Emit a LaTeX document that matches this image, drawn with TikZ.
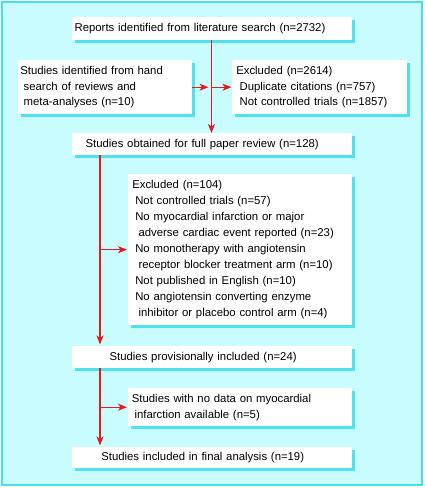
\documentclass[tikz,border=0pt]{standalone}
\usepackage{fontspec}
\setmainfont{Liberation Sans}
\usetikzlibrary{arrows.meta,shadows}
\definecolor{bgcyan}{HTML}{C8FCFF}
\definecolor{framecyan}{HTML}{45E0E8}
\definecolor{shadowcyan}{HTML}{50E2EA}
\definecolor{arrred}{HTML}{E41A1C}
\begin{document}
\begin{tikzpicture}[x=1pt,y=-1pt,
  box/.style={fill=white, draw=none, anchor=north west, align=left,
    inner ysep=0pt, font=\fontsize{11.35}{16}\selectfont,
    drop shadow={shadow xshift=3pt, shadow yshift=-3pt, fill=shadowcyan, opacity=1}},
  tightbox/.style={box, font=\fontsize{11.35}{15.6}\selectfont},
  arr/.style={draw=arrred, line width=1.3pt, -{Stealth[length=9pt,width=7pt,inset=2.5pt]}}]
\useasboundingbox (0,0) rectangle (424,488);
\draw[framecyan, line width=2pt, fill=bgcyan] (2,2) rectangle (422,484.5);

\node[box, inner xsep=2.4pt, text width=275.2pt, minimum height=23pt] (b1) at (72,17)
  {Reports identified from literature search (n=2732)};
\node[tightbox, inner xsep=2.1pt, text width=169.8pt, minimum height=54pt] (b2) at (18,60)
  {Studies identified from hand\\\hspace*{3.4pt}search of reviews and\\\hspace*{3.4pt}meta-analyses (n=10)};
\node[tightbox, inner xsep=4.1pt, text width=166.8pt, minimum height=54pt] (b3) at (232,60)
  {Excluded (n=2614)\\\hspace*{3.3pt}Duplicate citations (n=757)\\\hspace*{3.3pt}Not controlled trials (n=1857)};
\node[box, inner xsep=13.4pt, text width=253.2pt, minimum height=22pt] (b4) at (72,133)
  {Studies obtained for full paper review (n=128)};
\node[box, inner xsep=4.1pt, text width=215.8pt, minimum height=151pt] (b5) at (128,174)
  {Excluded (n=104)\\
   \hspace*{3pt}Not controlled trials (n=57)\\
   \hspace*{3pt}No myocardial infarction or major\\
   \hspace*{6.3pt}adverse cardiac event reported (n=23)\\
   \hspace*{3pt}No monotherapy with angiotensin\\
   \hspace*{6.3pt}receptor blocker treatment arm (n=10)\\
   \hspace*{3pt}Not published in English (n=10)\\
   \hspace*{3pt}No angiotensin converting enzyme\\
   \hspace*{6.3pt}inhibitor or placebo control arm (n=4)};
\node[box, inner xsep=37.4pt, text width=205.2pt, minimum height=22pt] (b6) at (72,346)
  {Studies provisionally included (n=24)};
\node[box, inner xsep=3.7pt, text width=216.6pt, minimum height=38pt] (b7) at (128,388)
  {Studies with no data on myocardial\\\hspace*{2.7pt}infarction available (n=5)};
\node[box, inner xsep=29.1pt, text width=221.8pt, minimum height=21pt] (b8) at (72,447)
  {Studies included in final analysis (n=19)};

\coordinate (tx) at (100,0);
\coordinate (ty) at (211.5,0);
\coordinate (j1) at (ty |- b2.east);
\draw[arr] (ty |- b1.south) -- (ty |- b4.north);
\draw[arr, shorten >=3pt] (b2.east) -- (j1);
\draw[arr, shorten >=0.5pt] (j1) -- (b3.west);
\draw[arr, shorten >=1.5pt] (tx |- b4.south) -- (tx |- b6.north);
\draw[arr, shorten >=1pt] (tx |- b5.west) -- (b5.west);
\draw[arr, shorten >=1.5pt] (tx |- b6.south) -- (tx |- b8.north);
\draw[arr, shorten >=1pt] (tx |- b7.west) -- (b7.west);
\end{tikzpicture}
\end{document}
